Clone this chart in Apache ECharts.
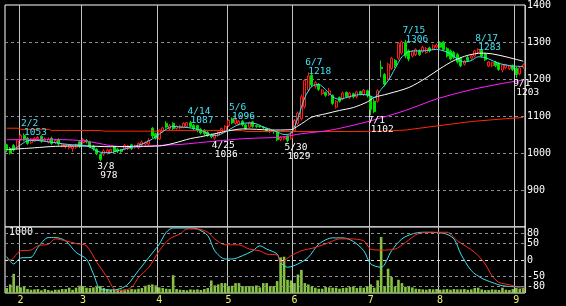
<!DOCTYPE html>
<html><head><meta charset="utf-8">
<script src="https://cdn.jsdelivr.net/npm/echarts@6/dist/echarts.min.js"></script>
<style>html,body{margin:0;padding:0;background:#000;}#c{width:566px;height:306px;}</style>
</head><body><div id="c"></div><script>
const dates = ['1/26','1/27','1/28','1/29',
'2/1','2/2','2/3','2/4','2/5','2/8','2/9','2/10','2/12','2/15','2/16','2/17','2/18','2/19','2/22','2/23','2/24','2/25',
'3/1','3/2','3/3','3/4','3/7','3/8','3/9','3/10','3/11','3/14','3/15','3/16','3/17','3/18','3/22','3/23','3/24','3/25','3/28','3/29','3/30','3/31',
'4/1','4/4','4/5','4/6','4/7','4/8','4/11','4/12','4/13','4/14','4/15','4/18','4/19','4/20','4/21','4/22','4/25','4/26','4/27','4/28',
'5/2','5/6','5/9','5/10','5/11','5/12','5/13','5/16','5/17','5/18','5/19','5/20','5/23','5/24','5/25','5/26','5/27','5/30','5/31',
'6/1','6/2','6/3','6/6','6/7','6/8','6/9','6/10','6/13','6/14','6/15','6/16','6/17','6/20','6/21','6/22','6/23','6/24','6/27','6/28','6/29','6/30',
'7/1','7/4','7/5','7/6','7/7','7/8','7/11','7/12','7/13','7/14','7/15','7/19','7/20','7/21','7/22','7/25','7/26','7/27','7/28','7/29',
'8/1','8/2','8/3','8/4','8/5','8/8','8/9','8/10','8/12','8/15','8/16','8/17','8/18','8/19','8/22','8/23','8/24','8/25','8/26','8/29','8/30','8/31',
'9/1','9/2','9/5'];

// [open, close, low, high]
const candles = [
[1022,1008,1002,1025],[1012,1000,996,1016],[1020,1008,1004,1024],[1014,1032,1010,1036],
[1036,1048,1032,1051],[1047,1035,1032,1053],[1040,1026,1022,1043],[1028,1038,1024,1040],[1032,1040,1030,1044],
[1038,1042,1034,1046],[1045,1032,1028,1048],[1034,1038,1030,1042],[1030,1038,1026,1042],[1040,1026,1022,1044],
[1028,1034,1024,1037],[1036,1024,1020,1040],[1018,1024,1015,1027],[1017,1022,1012,1025],[1015,1020,1010,1024],
[1012,1018,1003,1021],[1016,1022,1012,1025],[1030,1018,1014,1032],
[1028,1036,1024,1041],[1034,1030,1026,1038],[1030,1018,1014,1033],[1018,1012,1006,1022],[1010,998,994,1013],
[996,983,978,999],[997,1006,992,1010],[1000,1008,996,1012],[1002,1009,999,1012],[1016,1004,1000,1019],
[1010,1005,1000,1013],[1008,1004,998,1011],[1010,1021,1007,1024],[1012,1019,1008,1022],[1022,1012,1008,1025],
[1016,1019,1012,1023],[1014,1026,1010,1028],[1022,1030,1018,1034],[1024,1028,1020,1032],[1024,1034,1020,1040],
[1067,1046,1040,1070],[1052,1040,1036,1055],
[1038,1062,1035,1064],[1058,1068,1055,1071],[1080,1070,1066,1086],[1066,1074,1062,1078],[1080,1066,1062,1083],
[1066,1072,1063,1075],[1068,1072,1064,1076],[1070,1080,1067,1083],[1072,1082,1070,1084],[1082,1072,1068,1087],
[1075,1066,1062,1078],[1074,1060,1056,1076],[1064,1054,1050,1067],[1062,1052,1048,1064],[1056,1048,1044,1059],
[1050,1044,1040,1053],[1040,1050,1036,1052],[1048,1056,1044,1058],[1056,1066,1052,1069],[1060,1072,1058,1075],
[1074,1088,1070,1091],[1092,1082,1078,1096],[1080,1090,1076,1093],[1078,1086,1074,1089],[1086,1076,1072,1089],
[1076,1066,1062,1079],[1070,1082,1066,1085],[1084,1072,1068,1087],[1074,1072,1068,1077],[1073,1071,1068,1076],
[1070,1068,1064,1073],[1066,1060,1056,1069],[1058,1064,1054,1067],[1060,1058,1052,1063],[1056,1036,1032,1058],
[1036,1042,1032,1045],[1038,1042,1034,1045],[1046,1034,1029,1048],[1040,1054,1036,1056],
[1060,1088,1058,1092],[1080,1108,1076,1112],[1092,1152,1088,1158],[1125,1196,1120,1200],[1170,1208,1165,1218],
[1210,1184,1178,1214],[1180,1190,1174,1194],[1186,1172,1168,1189],[1160,1170,1156,1173],[1164,1156,1152,1166],
[1158,1168,1154,1176],[1156,1134,1130,1158],[1124,1140,1120,1143],[1150,1140,1136,1153],[1146,1162,1142,1166],
[1164,1152,1148,1166],[1150,1162,1146,1165],[1160,1152,1148,1163],[1152,1165,1148,1168],[1166,1160,1156,1168],
[1158,1170,1154,1173],[1168,1156,1150,1171],
[1152,1118,1102,1155],[1140,1112,1108,1146],[1140,1168,1136,1172],[1232,1228,1205,1250],[1212,1186,1180,1216],
[1200,1240,1196,1244],[1228,1256,1224,1260],[1250,1236,1230,1254],[1256,1296,1252,1300],[1270,1300,1266,1304],
[1298,1262,1256,1306],[1276,1254,1248,1280],[1262,1274,1258,1278],[1266,1280,1262,1283],[1276,1266,1262,1280],
[1274,1286,1270,1290],[1272,1282,1268,1286],[1284,1276,1272,1288],[1282,1290,1278,1294],[1286,1292,1282,1296],
[1298,1286,1282,1302],[1300,1280,1276,1302],[1282,1262,1258,1286],[1276,1254,1250,1280],[1272,1258,1254,1276],
[1266,1246,1242,1270],[1256,1236,1232,1260],[1240,1248,1236,1252],[1258,1250,1246,1262],[1256,1262,1252,1266],
[1262,1276,1258,1279],[1272,1280,1268,1283],[1278,1262,1258,1281],[1268,1252,1248,1271],[1235,1246,1232,1249],
[1236,1244,1232,1247],[1246,1236,1232,1249],[1243,1226,1222,1246],[1224,1238,1218,1241],[1230,1238,1226,1241],
[1228,1235,1224,1238],[1236,1226,1222,1239],
[1229,1212,1203,1232],[1214,1230,1210,1234],[1232,1238,1228,1242]];

const volumes = [75,130,290,110,85,105,60,50,55,60,
40,60,45,35,50,50,60,60,80,50,
80,110,105,80,75,85,110,105,75,60,
50,55,60,50,55,50,60,55,65,75,
110,125,130,115,85,75,65,60,270,60,
50,45,40,55,50,55,45,60,75,190,
115,130,150,150,100,110,150,150,105,105,
105,105,115,85,150,150,105,105,180,540,
550,200,190,150,280,350,150,130,100,80,
65,65,90,85,80,80,65,75,80,90,
100,75,85,80,105,131,80,192,848,100,
368,242,100,200,150,95,105,85,65,60,
55,50,60,55,60,50,55,60,50,60,
55,55,60,50,55,75,80,55,45,45,
55,50,45,80,50,45,60,75,65,80];

// moving averages: [day index, value]
const maShort = [[2,1010],[4,1022],[6,1033],[8,1034],[10,1033],[12,1030],[14,1028],[16,1025],[18,1023],[20,1022],[22,1021],[24,1016],[26,1005],[28,1001],[30,1001],[32,1006],[34,1011],[36,1016],[38,1021],[40,1028],[42,1038],[44,1051],[46,1064],[48,1072],[50,1070],[52,1069],[54,1066],[56,1061],[58,1053],[60,1047],[62,1052],[64,1062],[66,1073],[68,1080],[70,1081],[72,1079],[74,1070],[76,1064],[78,1057],[80,1050],[82,1054],[84,1095],[86,1150],[88,1180],[90,1185],[92,1171],[94,1152],[96,1145],[98,1150],[100,1155],[102,1158],[104,1157],[106,1150],[108,1172],[110,1195],[112,1228],[114,1260],[116,1274],[118,1276],[120,1276],[122,1278],[124,1280],[126,1276],[128,1268],[130,1254],[132,1246],[134,1250],[136,1260],[138,1258],[140,1250],[142,1242],[144,1238],[146,1235],[149,1234]];
const maMid = [[0,1009],[8,1014],[14,1018],[22,1019],[30,1017],[38,1018],[44,1019],[48,1026],[53,1039],[56,1044],[60,1052],[64,1060],[68,1065],[72,1064],[76,1062],[82,1063],[84,1073],[86,1085],[88,1097],[92,1106],[96,1115],[100,1123],[104,1138],[106,1150],[110,1160],[116,1177],[121,1203],[125,1228],[129,1250],[133,1264],[137,1270],[140,1268],[144,1260],[149,1248]];
const maLong = [[0,1036],[16,1036],[22,1033],[26,1027],[30,1020],[36,1016],[43,1020],[47,1022],[50,1023],[60,1032],[69,1039],[79,1043],[85,1052],[93,1061],[99,1073],[105,1087],[115,1115],[124,1146],[134,1171],[143,1188],[149,1197]];
const maVeryLong = [[0,1067],[3,1067],[4,1064],[12,1064],[13,1061],[27,1061],[28,1059],[44,1059],[45,1061],[68,1061],[69,1058],[100,1058],[108,1059],[115,1062],[124,1073],[134,1085],[143,1092],[149,1096]];

const rciShort = [[0,10],[2,-12],[4,6],[7,8],[9,38],[12,68],[14,68],[17,58],[20,23],[23,3],[25,-42],[27,-88],[30,-91],[33,-86],[35,-73],[38,-32],[41,8],[44,48],[46,84],[48,97],[53,97],[55,94],[58,74],[60,28],[63,3],[65,3],[68,13],[71,28],[73,43],[75,33],[78,18],[79,-8],[81,-22],[84,-12],[87,8],[90,48],[94,67],[97,67],[100,56],[103,28],[105,-12],[108,-22],[111,28],[114,64],[117,79],[120,84],[126,81],[129,64],[131,18],[134,-32],[137,-55],[140,-68],[143,-78],[147,-81],[149,-81]];
const rciLong = [[0,0],[1,0],[4,28],[7,30],[9,43],[12,48],[14,64],[17,58],[20,50],[23,43],[26,-7],[29,-53],[31,-88],[33,-93],[36,-83],[38,-53],[41,-22],[44,28],[47,64],[50,79],[52,94],[55,94],[58,84],[60,64],[63,46],[67,46],[70,33],[73,28],[75,18],[78,15],[79,-7],[82,13],[85,28],[89,38],[93,53],[96,64],[99,64],[103,58],[105,33],[108,30],[112,33],[115,53],[119,81],[123,84],[127,84],[130,58],[135,23],[138,-12],[140,-48],[142,-68],[145,-75],[147,-81],[149,-88]];
const rciLevels = [80, 50, 0, -50, -80];

const highMarks = [['2/2',1053],['4/14',1087],['5/6',1096],['6/7',1218],['7/15',1306],['8/17',1283]];
const lowMarks = [['3/8',978],['4/25',1036],['5/30',1029],['7/1',1102],['9/1',1203]];

const mono = 'DejaVu Sans Mono';
const CYAN = '#3fe3f3';
function monthStart(i) {
  if (i <= 0 || i >= dates.length) return false;
  return dates[i].split('/')[0] !== dates[i - 1].split('/')[0];
}
function markLabel(d, v, color, high) {
  return {
    coord: [d, v], value: v,
    label: {
      show: true, position: high ? 'top' : 'bottom', distance: 0, align: 'left',
      offset: high ? [-3, 4] : [-3, 1],
      formatter: '{a|' + d + '}\n{b|' + v + '}',
      rich: {
        a: {color: color, fontFamily: mono, fontSize: 9.5, lineHeight: 9},
        b: {color: color, fontFamily: mono, fontSize: 9.5, lineHeight: 9, padding: [0, 0, 0, 3]}
      }
    }
  };
}
const vSplit = {show: true, interval: monthStart, lineStyle: {color: '#c4c4c4', width: 1}};

const chart = echarts.init(document.getElementById('c'));
chart.setOption({
  backgroundColor: '#000',
  animation: false,
  grid: [
    {left: 5, right: 41, top: 2, height: 225, show: true, borderColor: '#fff', borderWidth: 1, backgroundColor: '#000'},
    {left: 5, right: 41, top: 227, height: 66, show: true, borderColor: '#fff', borderWidth: 1, backgroundColor: '#000'}
  ],
  xAxis: [
    {type: 'category', gridIndex: 0, data: dates, boundaryGap: true, axisLine: {show: false}, axisTick: {show: false}, axisLabel: {show: false}, splitLine: vSplit},
    {type: 'category', gridIndex: 1, data: dates, boundaryGap: true, axisLine: {show: false}, axisTick: {show: false},
     axisLabel: {show: true, interval: monthStart, formatter: v => v.split('/')[0], color: '#f0f070', fontFamily: mono, fontSize: 10, margin: 2},
     splitLine: vSplit}
  ],
  yAxis: [
    {type: 'value', gridIndex: 0, position: 'right', min: 800, max: 1400, interval: 100,
     axisLine: {show: false}, axisTick: {show: false},
     axisLabel: {color: '#fff', fontFamily: mono, fontSize: 10, margin: 2, showMinLabel: false, padding: [4, 0, 0, 0], formatter: v => String(v)},
     splitLine: {show: true, showMinLine: false, showMaxLine: false, lineStyle: {color: '#8c8c8c', type: [3, 3], width: 1}}},
    {type: 'value', gridIndex: 1, min: -100, max: 100, show: false},
    {type: 'value', gridIndex: 1, position: 'left', min: 0, max: 1000, interval: 1000,
     axisLine: {show: false}, axisTick: {show: false}, splitLine: {show: false},
     axisLabel: {inside: true, color: '#fff', fontFamily: mono, fontSize: 10, margin: 4, verticalAlign: 'top', showMinLabel: false,
                 formatter: v => (v === 1000 ? '1000' : '')}}
  ],
  series: [
    {type: 'bar', xAxisIndex: 1, yAxisIndex: 2, data: volumes, barWidth: 2.6, itemStyle: {color: '#86c440'}, silent: true},
    {type: 'line', xAxisIndex: 1, yAxisIndex: 1, data: rciShort, symbol: 'none', smooth: 0.3,
     lineStyle: {color: CYAN, width: 1}, silent: true,
     markLine: {silent: true, symbol: ['none', 'none'],
       label: {show: true, position: 'end', formatter: '{c}', color: '#fff', distance: 2, fontFamily: mono, fontSize: 10},
       data: rciLevels.map(v => ({yAxis: v, lineStyle: {color: v === 0 ? '#e0e0e0' : '#8c8c8c', type: [3, 3], width: 1}}))}},
    {type: 'line', xAxisIndex: 1, yAxisIndex: 1, data: rciLong, symbol: 'none', smooth: 0.3, lineStyle: {color: '#ff2a1a', width: 1}, silent: true},
    {type: 'line', xAxisIndex: 0, yAxisIndex: 0, data: maVeryLong, symbol: 'none', lineStyle: {color: '#ff2a00', width: 1}, silent: true},
    {type: 'line', xAxisIndex: 0, yAxisIndex: 0, data: maLong, symbol: 'none', smooth: 0.3, lineStyle: {color: '#ff20ff', width: 1}, silent: true},
    {type: 'line', xAxisIndex: 0, yAxisIndex: 0, data: maMid, symbol: 'none', smooth: 0.3, lineStyle: {color: '#ffffff', width: 1}, silent: true},
    {type: 'candlestick', xAxisIndex: 0, yAxisIndex: 0, data: candles, barWidth: 2.5,
     itemStyle: {color: '#000000', color0: '#00e000', borderColor: '#ff1a1a', borderColor0: '#00e000', borderWidth: 1},
     markPoint: {symbol: 'circle', symbolSize: 0, silent: true,
       data: highMarks.map(m => markLabel(m[0], m[1], CYAN, true)).concat(lowMarks.map(m => markLabel(m[0], m[1], '#ffffff', false)))}},
    {type: 'line', xAxisIndex: 0, yAxisIndex: 0, data: maShort, symbol: 'none', smooth: 0.3, lineStyle: {color: CYAN, width: 1}, silent: true}
  ]
});
</script></body></html>
